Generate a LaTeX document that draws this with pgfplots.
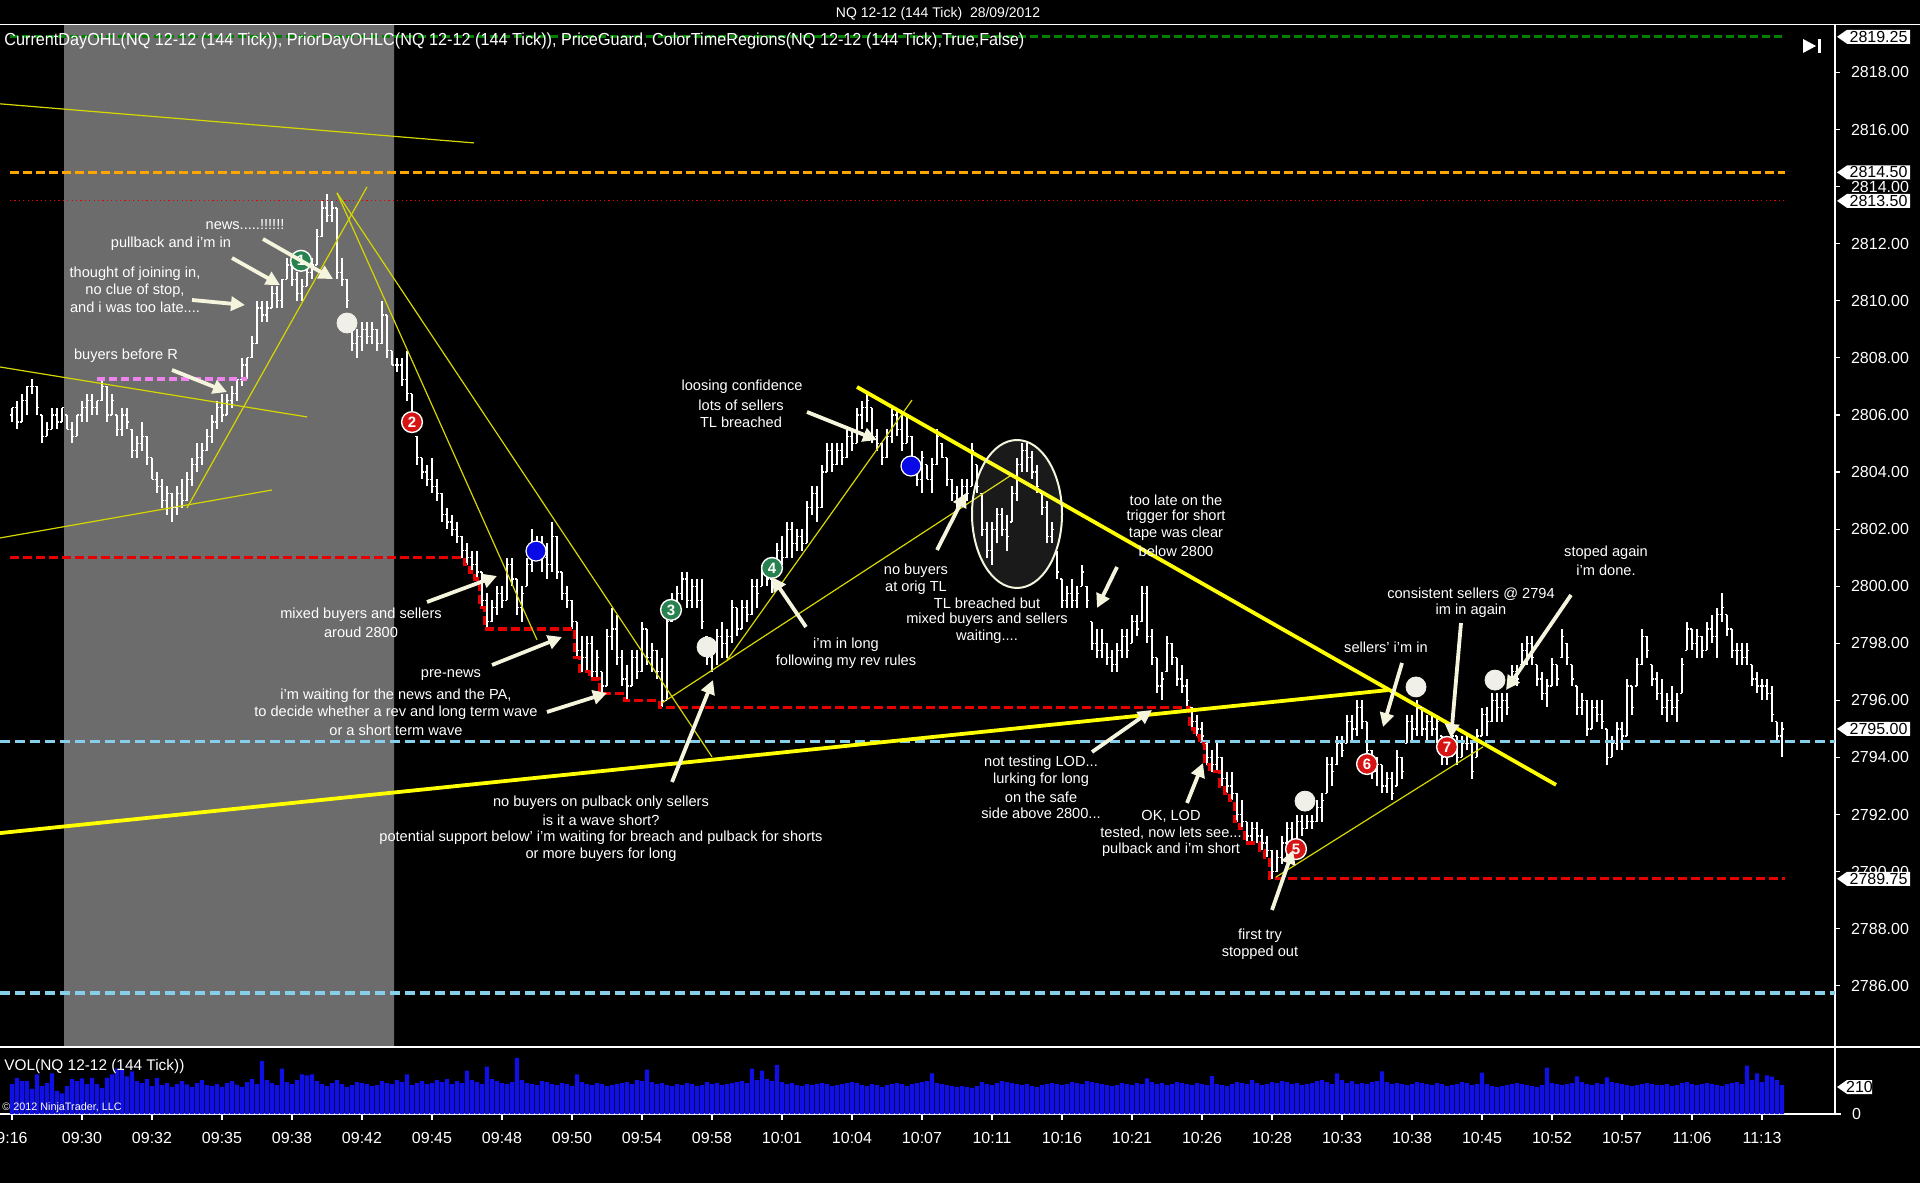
\documentclass[border=0pt]{standalone}
\usepackage{pgfplots}
\pgfplotsset{compat=1.18}
\usepackage{pgfplotstable}
\usepackage{fontspec}
\setmainfont{Liberation Sans}
\usepackage{graphicx}
\usetikzlibrary{arrows.meta}

\definecolor{bandgray}{RGB}{108,108,108}
\definecolor{lvlorange}{RGB}{255,165,0}
\definecolor{lvlgreen}{RGB}{0,128,0}
\definecolor{lvlred}{RGB}{230,0,0}
\definecolor{lvlblue}{RGB}{135,206,235}
\definecolor{lvlpink}{RGB}{238,130,238}
\definecolor{tlyellow}{RGB}{255,255,0}
\definecolor{tlthin}{RGB}{215,215,0}
\definecolor{arrowc}{RGB}{245,245,222}
\definecolor{dotwhite}{RGB}{240,240,232}
\definecolor{numgreen}{RGB}{40,130,80}
\definecolor{numred}{RGB}{215,20,20}
\definecolor{dotblue}{RGB}{10,10,230}
\definecolor{volblue}{RGB}{15,15,230}

\pgfdeclareplotmark{otick}{\pgfpathmoveto{\pgfqpoint{-1.1pt}{0pt}}\pgfpathlineto{\pgfqpoint{0pt}{0pt}}\pgfusepathqstroke}
\pgfdeclareplotmark{ctick}{\pgfpathmoveto{\pgfqpoint{0pt}{0pt}}\pgfpathlineto{\pgfqpoint{1.1pt}{0pt}}\pgfusepathqstroke}

\pgfplotstableread{
i o h l c v
0 2806.00 2806.25 2805.75 2806.25 232
1 2806.25 2806.50 2805.50 2805.75 280
2 2805.75 2806.75 2805.75 2806.50 255
3 2806.50 2807.00 2806.00 2807.00 255
4 2807.00 2807.25 2806.75 2807.00 195
5 2807.00 2807.00 2806.00 2806.25 307
6 2806.00 2806.00 2805.00 2805.25 217
7 2805.25 2805.75 2805.25 2805.50 240
8 2805.50 2806.25 2805.50 2806.00 315
9 2806.00 2806.25 2805.50 2805.75 180
10 2805.75 2806.25 2805.75 2806.25 160
11 2806.00 2806.00 2805.50 2805.50 217
12 2805.50 2805.75 2805.00 2805.25 270
13 2805.25 2806.00 2805.25 2806.00 255
14 2806.00 2806.50 2805.75 2806.25 277
15 2806.25 2806.75 2805.75 2806.50 232
16 2806.50 2806.75 2806.00 2806.25 280
17 2806.25 2806.50 2806.00 2806.50 232
18 2806.50 2807.25 2806.50 2807.00 202
19 2807.00 2807.00 2805.75 2806.00 280
20 2806.00 2806.75 2806.00 2806.50 307
21 2806.00 2806.00 2805.25 2805.50 352
22 2805.50 2806.25 2805.25 2806.00 340
23 2806.00 2806.25 2805.50 2805.75 292
24 2805.50 2805.50 2804.50 2804.75 330
25 2804.75 2805.25 2804.50 2805.00 255
26 2805.00 2805.75 2804.75 2805.25 240
27 2805.25 2805.25 2804.25 2804.50 270
28 2804.50 2804.50 2803.75 2803.75 217
29 2803.75 2804.00 2803.25 2803.50 280
30 2803.50 2803.75 2802.75 2803.00 225
31 2803.00 2803.50 2802.50 2803.25 240
32 2803.25 2803.25 2802.25 2802.75 210
33 2802.75 2803.50 2802.50 2803.25 232
34 2803.25 2803.75 2802.75 2803.00 255
35 2803.00 2804.00 2803.00 2803.75 230
36 2803.75 2804.50 2803.50 2804.25 210
37 2804.25 2805.00 2804.00 2804.50 240
38 2804.50 2805.00 2804.25 2804.75 262
39 2804.75 2805.50 2804.75 2805.25 225
40 2805.25 2806.00 2805.00 2805.75 217
41 2805.75 2806.50 2805.50 2806.25 232
42 2806.25 2806.75 2805.75 2806.00 210
43 2806.00 2806.75 2806.00 2806.50 240
44 2806.50 2807.00 2806.25 2806.75 255
45 2806.75 2807.25 2806.50 2807.25 228
46 2807.25 2808.00 2807.00 2807.75 210
47 2807.75 2808.00 2807.25 2808.00 247
48 2808.00 2808.75 2808.00 2808.50 270
49 2808.50 2810.00 2808.50 2809.75 232
50 2809.75 2810.00 2809.25 2809.50 412
51 2809.50 2810.00 2809.25 2809.75 262
52 2809.75 2810.50 2809.75 2810.25 240
53 2810.25 2810.50 2809.75 2810.00 225
54 2810.00 2810.75 2809.75 2810.75 352
55 2810.75 2811.50 2810.75 2811.25 247
56 2811.25 2811.50 2810.50 2810.75 232
57 2810.75 2811.00 2810.00 2810.25 262
58 2810.25 2810.75 2810.00 2810.50 307
59 2810.50 2811.25 2810.50 2811.00 300
60 2811.00 2811.50 2810.75 2811.25 307
61 2811.25 2812.50 2811.25 2812.25 255
62 2812.25 2813.50 2812.25 2813.25 232
63 2813.25 2813.75 2812.75 2813.00 217
64 2813.00 2813.50 2812.75 2813.25 240
65 2813.25 2813.25 2810.75 2811.00 262
66 2811.00 2811.50 2810.50 2810.75 232
67 2810.75 2810.75 2809.75 2810.00 210
68 2809.00 2809.00 2808.25 2808.50 225
69 2808.50 2809.00 2808.00 2808.75 247
70 2808.75 2809.25 2808.25 2809.00 240
71 2809.00 2809.25 2808.50 2808.75 232
72 2808.75 2809.25 2808.50 2809.00 217
73 2809.00 2809.00 2808.25 2808.50 225
74 2808.50 2810.00 2808.50 2809.50 255
75 2809.50 2809.50 2808.00 2808.25 240
76 2808.25 2808.25 2807.75 2807.75 232
77 2807.75 2808.00 2807.50 2807.75 262
78 2807.75 2808.00 2807.00 2807.25 247
79 2807.25 2808.25 2806.50 2806.75 307
80 2806.75 2806.75 2805.50 2805.75 225
81 2805.25 2805.25 2804.25 2804.50 240
82 2804.50 2804.50 2803.75 2804.00 255
83 2804.00 2804.25 2803.50 2803.75 232
84 2803.75 2804.50 2803.25 2803.50 240
85 2803.50 2803.75 2803.00 2803.25 262
86 2803.25 2803.25 2802.25 2802.50 247
87 2802.50 2802.75 2802.00 2802.25 270
88 2802.25 2802.50 2801.75 2802.00 232
89 2802.00 2802.25 2801.50 2801.75 255
90 2801.75 2801.75 2801.00 2801.25 240
91 2801.25 2801.50 2800.75 2801.00 337
92 2801.00 2801.25 2800.50 2800.75 262
93 2800.75 2801.25 2800.25 2800.50 247
94 2800.50 2800.50 2799.25 2799.50 232
95 2799.50 2799.75 2798.50 2798.75 367
96 2798.75 2799.50 2798.75 2799.25 270
97 2799.25 2800.00 2799.00 2799.75 255
98 2799.75 2800.00 2799.25 2799.50 240
99 2799.50 2801.00 2799.50 2800.75 232
100 2800.75 2801.00 2800.00 2800.25 247
101 2800.25 2800.25 2799.00 2799.25 435
102 2799.25 2800.00 2798.75 2799.75 262
103 2800.00 2801.00 2800.00 2800.75 240
104 2800.75 2802.00 2800.50 2801.50 232
105 2801.50 2801.75 2801.00 2801.25 225
106 2801.25 2801.75 2800.50 2801.00 255
107 2801.00 2801.50 2800.25 2800.75 247
108 2800.75 2802.25 2800.50 2801.75 232
109 2801.75 2801.75 2800.25 2800.50 225
110 2800.50 2800.50 2799.50 2799.75 240
111 2799.75 2800.00 2799.25 2799.50 232
112 2799.50 2799.50 2798.50 2798.75 217
113 2798.75 2798.75 2797.50 2797.75 307
114 2797.75 2798.25 2797.00 2797.50 247
115 2797.50 2798.25 2797.00 2798.00 232
116 2798.00 2798.25 2796.75 2797.00 225
117 2797.00 2797.75 2796.75 2797.50 240
118 2797.00 2797.00 2796.25 2796.50 232
119 2796.50 2798.50 2796.50 2798.25 217
120 2798.25 2799.25 2797.75 2798.50 225
121 2798.50 2799.00 2797.25 2797.50 232
122 2797.50 2797.75 2796.50 2796.75 240
123 2796.75 2797.25 2796.00 2796.50 247
124 2796.50 2797.75 2796.50 2797.50 232
125 2797.50 2797.75 2796.75 2797.00 262
126 2797.00 2798.75 2797.00 2798.50 255
127 2798.50 2798.50 2797.25 2797.50 345
128 2797.50 2798.00 2797.00 2797.75 247
129 2797.75 2797.75 2796.75 2797.00 232
130 2797.00 2797.50 2795.75 2796.00 240
131 2796.00 2799.00 2796.00 2798.75 225
132 2798.75 2799.75 2798.75 2799.50 217
133 2799.50 2800.00 2799.25 2799.75 232
134 2799.75 2800.50 2799.50 2800.25 225
135 2800.25 2800.50 2799.25 2799.50 240
136 2799.50 2800.25 2799.25 2800.00 232
137 2800.00 2800.25 2799.25 2799.50 217
138 2799.50 2800.25 2798.50 2798.75 225
139 2798.25 2798.25 2797.25 2797.50 247
140 2797.50 2798.00 2797.00 2797.75 232
141 2797.75 2798.50 2797.25 2798.25 240
142 2798.25 2798.75 2797.50 2798.00 225
143 2798.00 2798.50 2797.50 2798.25 232
144 2798.25 2799.50 2798.00 2799.25 240
145 2799.25 2799.25 2798.25 2798.50 247
146 2798.50 2799.50 2798.50 2799.25 255
147 2799.25 2799.50 2798.75 2799.00 240
148 2799.00 2800.25 2799.00 2800.00 352
149 2800.00 2800.25 2799.25 2799.75 262
150 2800.00 2800.75 2800.00 2800.50 337
151 2800.50 2800.75 2800.00 2800.25 270
152 2800.25 2800.75 2799.75 2800.50 255
153 2800.50 2801.50 2800.50 2801.25 382
154 2801.25 2801.75 2800.75 2801.00 247
155 2801.00 2802.25 2801.00 2802.00 232
156 2802.00 2802.25 2801.00 2801.50 240
157 2801.50 2802.00 2801.25 2801.75 225
158 2801.75 2802.00 2801.25 2801.50 217
159 2801.50 2803.00 2801.50 2802.75 232
160 2802.75 2803.50 2802.50 2803.25 225
161 2803.25 2803.50 2802.25 2802.75 232
162 2802.75 2804.25 2802.75 2804.00 240
163 2804.00 2805.00 2804.00 2804.75 232
164 2804.75 2805.00 2804.00 2804.25 217
165 2804.25 2805.00 2804.25 2804.75 225
166 2804.75 2805.00 2804.25 2804.50 232
167 2804.50 2805.50 2804.50 2805.25 240
168 2805.25 2805.50 2804.75 2805.00 247
169 2805.00 2806.25 2805.00 2806.00 240
170 2806.00 2806.50 2805.50 2806.25 225
171 2806.25 2806.75 2805.75 2806.50 217
172 2806.25 2806.25 2805.00 2805.25 232
173 2805.25 2805.50 2804.75 2805.00 225
174 2805.00 2805.00 2804.25 2804.50 210
175 2804.50 2805.50 2804.50 2805.25 225
176 2805.25 2806.25 2805.00 2806.00 232
177 2806.00 2806.25 2805.25 2805.50 240
178 2805.50 2806.00 2804.75 2805.00 232
179 2805.00 2806.00 2805.00 2805.25 217
180 2805.25 2805.25 2804.25 2804.50 232
181 2804.25 2804.50 2803.50 2803.75 240
182 2803.75 2804.75 2803.25 2804.50 247
183 2804.25 2804.25 2803.75 2803.75 255
184 2803.75 2804.50 2803.25 2804.25 315
185 2804.25 2805.50 2804.25 2805.25 240
186 2805.00 2805.00 2804.50 2804.50 232
187 2804.50 2804.50 2803.50 2803.75 225
188 2803.75 2803.75 2803.00 2803.25 217
189 2803.25 2803.50 2802.75 2803.00 210
190 2803.00 2803.75 2803.00 2803.50 217
191 2803.50 2803.75 2803.00 2803.25 210
192 2803.50 2805.00 2803.50 2804.75 202
193 2804.25 2804.25 2803.25 2803.50 217
194 2803.25 2803.25 2801.75 2802.00 247
195 2802.00 2802.25 2801.00 2801.25 232
196 2801.25 2802.25 2800.75 2802.00 225
197 2802.00 2802.75 2801.50 2802.50 240
198 2802.50 2802.75 2801.75 2802.00 255
199 2802.00 2802.50 2801.25 2801.75 247
200 2802.25 2803.50 2802.25 2803.25 240
201 2803.25 2804.50 2803.00 2804.25 232
202 2804.25 2805.00 2804.00 2804.75 225
203 2804.75 2805.00 2804.00 2804.50 232
204 2804.50 2804.75 2803.75 2804.00 217
205 2804.00 2804.25 2803.25 2803.50 210
206 2803.25 2803.25 2802.50 2802.75 225
207 2802.75 2803.00 2801.50 2801.75 232
208 2801.75 2802.25 2801.50 2802.00 240
209 2801.25 2801.25 2800.25 2800.50 232
210 2800.25 2800.25 2799.25 2799.50 225
211 2799.50 2800.00 2799.25 2799.75 232
212 2799.75 2800.25 2799.25 2799.50 247
213 2799.50 2800.00 2799.25 2799.75 240
214 2800.00 2800.75 2800.00 2800.50 232
215 2800.00 2800.00 2799.25 2799.50 255
216 2798.75 2798.75 2797.75 2798.00 247
217 2798.00 2798.50 2797.50 2797.75 240
218 2797.75 2798.50 2797.50 2798.00 232
219 2798.00 2798.00 2797.25 2797.50 225
220 2797.50 2797.75 2797.00 2797.25 217
221 2797.25 2798.00 2797.00 2797.75 225
222 2797.75 2798.50 2797.50 2798.25 240
223 2798.25 2798.50 2797.50 2797.75 232
224 2798.00 2799.00 2798.00 2798.75 225
225 2798.75 2799.00 2798.25 2798.50 240
226 2798.75 2800.00 2798.75 2799.75 232
227 2799.75 2800.00 2798.00 2798.25 277
228 2798.25 2798.50 2797.25 2797.50 247
229 2797.50 2797.50 2796.25 2796.50 232
230 2796.50 2797.00 2796.00 2796.75 240
231 2797.00 2798.25 2797.00 2798.00 225
232 2798.00 2798.00 2797.25 2797.50 232
233 2797.50 2797.50 2796.50 2796.75 247
234 2796.75 2797.25 2796.25 2796.50 240
235 2796.50 2796.75 2795.75 2796.00 232
236 2795.75 2795.75 2795.00 2795.25 225
237 2795.25 2795.50 2794.75 2795.00 240
238 2795.00 2795.25 2794.50 2794.75 232
239 2794.50 2794.50 2793.75 2794.00 225
240 2794.00 2794.25 2793.50 2793.75 293
241 2793.75 2794.50 2793.50 2794.00 232
242 2794.00 2794.00 2793.00 2793.25 225
243 2793.25 2793.50 2792.75 2793.00 217
244 2793.00 2793.50 2792.50 2792.75 232
245 2792.75 2792.75 2791.75 2792.00 247
246 2792.00 2792.50 2791.50 2791.75 240
247 2791.75 2791.75 2791.00 2791.25 232
248 2791.25 2791.75 2791.00 2791.50 262
249 2791.50 2791.75 2791.00 2791.25 240
250 2791.25 2791.50 2790.75 2791.00 225
251 2791.00 2791.25 2790.50 2790.75 232
252 2790.75 2790.75 2789.75 2790.00 247
253 2790.00 2790.75 2790.00 2790.50 240
254 2790.50 2791.25 2790.25 2791.00 255
255 2791.00 2791.75 2790.50 2791.50 247
256 2791.50 2791.75 2790.75 2791.00 232
257 2791.00 2792.00 2791.00 2791.75 240
258 2791.75 2792.00 2791.25 2791.50 225
259 2791.50 2792.00 2791.50 2791.75 232
260 2791.75 2792.00 2791.50 2791.75 240
261 2791.75 2792.50 2791.75 2792.25 255
262 2792.25 2792.75 2791.75 2792.50 262
263 2792.75 2794.00 2792.75 2793.75 247
264 2793.75 2794.00 2793.00 2793.50 232
265 2793.75 2794.75 2793.75 2794.50 315
266 2794.50 2794.75 2794.00 2794.25 262
267 2794.50 2795.50 2794.50 2795.25 240
268 2795.25 2795.50 2794.50 2795.00 255
269 2795.00 2796.00 2794.75 2795.75 232
270 2795.75 2796.00 2795.00 2795.25 240
271 2795.25 2795.25 2794.00 2794.25 232
272 2794.25 2794.25 2793.25 2793.50 247
273 2793.50 2794.00 2793.00 2793.75 255
274 2793.75 2793.75 2792.75 2793.00 330
275 2793.00 2793.50 2792.75 2793.25 247
276 2793.25 2793.50 2792.50 2792.75 232
277 2793.00 2794.25 2793.00 2794.00 240
278 2794.00 2794.00 2793.25 2793.50 232
279 2794.50 2795.50 2794.50 2795.25 225
280 2795.25 2795.50 2794.50 2795.00 232
281 2795.00 2796.00 2794.75 2795.75 247
282 2795.75 2795.75 2794.75 2795.00 240
283 2795.00 2795.50 2794.50 2795.25 232
284 2795.25 2795.50 2794.75 2795.00 225
285 2795.00 2795.50 2794.50 2795.25 240
286 2794.75 2794.75 2793.75 2794.00 232
287 2794.00 2794.50 2793.75 2794.25 217
288 2794.25 2795.00 2794.00 2794.75 225
289 2794.75 2794.75 2793.75 2794.00 232
290 2794.00 2794.75 2794.00 2794.50 247
291 2794.50 2794.75 2794.25 2794.50 240
292 2794.50 2794.50 2793.25 2793.50 225
293 2794.00 2795.00 2794.00 2794.75 232
294 2794.75 2795.75 2794.75 2795.50 322
295 2795.50 2795.75 2794.75 2795.25 232
296 2795.25 2796.25 2795.25 2796.00 217
297 2796.00 2796.25 2795.25 2795.75 210
298 2795.75 2796.25 2795.25 2796.00 217
299 2796.00 2796.25 2795.50 2795.75 225
300 2796.50 2797.25 2796.50 2797.00 232
301 2797.00 2797.25 2796.50 2796.75 240
302 2797.25 2798.00 2797.25 2797.75 232
303 2797.75 2798.25 2797.25 2798.00 225
304 2798.00 2798.25 2797.25 2797.50 217
305 2797.25 2797.25 2796.50 2796.75 210
306 2796.75 2797.00 2796.00 2796.25 225
307 2796.25 2796.75 2795.75 2796.50 360
308 2796.50 2797.50 2796.50 2797.25 240
309 2797.25 2797.25 2796.50 2796.75 232
310 2797.50 2798.50 2797.50 2798.25 225
311 2798.00 2798.00 2797.25 2797.50 232
312 2797.25 2797.25 2796.50 2796.75 240
313 2796.50 2796.50 2795.50 2795.75 292
314 2795.75 2796.25 2795.50 2796.00 247
315 2796.00 2796.00 2794.75 2795.00 232
316 2795.00 2796.00 2795.00 2795.75 225
317 2795.75 2796.00 2795.25 2795.50 240
318 2795.50 2796.00 2795.00 2795.25 232
319 2795.00 2795.00 2793.75 2794.00 285
320 2794.00 2794.75 2794.00 2794.50 247
321 2794.50 2795.25 2794.25 2795.00 240
322 2795.00 2795.25 2794.25 2794.75 232
323 2794.75 2796.75 2794.75 2796.50 225
324 2796.50 2796.50 2795.50 2795.75 217
325 2796.50 2797.50 2796.50 2797.25 225
326 2797.25 2798.50 2797.25 2798.25 232
327 2798.25 2798.25 2797.50 2797.75 240
328 2797.25 2797.25 2796.50 2796.75 232
329 2796.75 2797.00 2796.00 2796.25 225
330 2796.25 2796.75 2795.50 2795.75 225
331 2795.75 2796.25 2795.25 2796.00 232
332 2796.00 2796.50 2795.50 2795.75 217
333 2795.75 2796.25 2795.25 2796.00 225
334 2796.25 2797.50 2796.25 2797.25 240
335 2797.75 2798.75 2797.75 2798.50 247
336 2798.50 2798.50 2797.75 2798.00 232
337 2798.00 2798.50 2797.50 2798.25 225
338 2798.25 2798.25 2797.50 2797.75 232
339 2797.75 2798.75 2797.75 2798.50 240
340 2798.50 2799.00 2798.00 2798.25 232
341 2798.25 2799.25 2797.50 2799.00 225
342 2799.00 2799.75 2798.75 2799.25 217
343 2799.00 2799.00 2798.25 2798.50 232
344 2798.50 2798.50 2797.50 2797.75 240
345 2797.75 2798.00 2797.25 2797.75 247
346 2797.75 2798.00 2797.25 2797.50 232
347 2797.50 2798.00 2797.25 2797.75 375
348 2797.25 2797.25 2796.50 2796.75 262
349 2796.75 2797.00 2796.25 2796.50 315
350 2796.50 2796.75 2796.00 2796.50 247
351 2796.50 2796.75 2796.00 2796.25 300
352 2796.25 2796.50 2795.25 2795.50 290
353 2795.25 2795.25 2794.50 2794.75 262
354 2794.75 2795.25 2794.00 2795.00 225
}\bars

\newcommand{\pbox}[3]{%
  \fill[white] (1837,#1) -- (1847,#1-7) -- (#3,#1-7) -- (#3,#1+7) -- (1847,#1+7) -- cycle;
  \node[text=black, font=\fontsize{8}{9}\selectfont, inner sep=0pt] at ({(1847+#3)/2},#1) {#2};}

\begin{document}
\begin{tikzpicture}
\fill[black] (0,0) rectangle (960pt,591.5pt);
\useasboundingbox (0,0) rectangle (960pt,591.5pt);

% ---------------- price panel ----------------
\begin{axis}[
  at={(0pt,68pt)}, anchor=south west,
  scale only axis, width=917.5pt, height=511.25pt,
  xmin=-2.4, xmax=364.6, ymin=2783.855, ymax=2819.68,
  axis x line=none, axis y line*=right,
  y axis line style={white, line width=0.8pt, -},
  ytick={2786,2788,...,2818},
  tick align=outside, major tick length=2.5pt,
  every tick/.style={white, line width=0.6pt},
  yticklabel style={text=white, font=\fontsize{8}{9}\selectfont, xshift=2pt,
    /pgf/number format/.cd, fixed, fixed zerofill, precision=2, 1000 sep={}, assume math mode=true},
]
% time region
\addplot[fill=bandgray, draw=none] coordinates {(10.4,2783.855) (10.4,2819.68) (76.4,2819.68) (76.4,2783.855) (10.4,2783.855)};
% OHLC bars
\addplot[white, only marks, mark=otick, mark options={line width=0.6pt},
  error bars/.cd, y dir=both, y explicit, error mark=none,
  error bar style={white, line width=0.6pt}]
  table[x=i, y=o, y error plus expr=\thisrow{h}-\thisrow{o}, y error minus expr=\thisrow{o}-\thisrow{l}] {\bars};
\addplot[white, only marks, mark=ctick, mark options={line width=0.6pt}] table[x=i, y=c] {\bars};
% level lines
\addplot[lvlgreen, line width=1.5pt, dash pattern=on 4pt off 2pt] coordinates {(-0.4,2819.25) (354.6,2819.25)};
\addplot[lvlorange, line width=1.6pt, dash pattern=on 4.5pt off 2pt] coordinates {(-0.4,2814.5) (354.6,2814.5)};
\addplot[lvlred, line width=0.6pt, dash pattern=on 0.6pt off 1.6pt] coordinates {(-0.4,2813.5) (354.6,2813.5)};
\addplot[lvlblue, line width=1.6pt, dash pattern=on 5pt off 2.5pt] coordinates {(-2.4,2794.55) (364.6,2794.55)};
\addplot[lvlblue, line width=1.6pt, dash pattern=on 5pt off 2.5pt] coordinates {(-2.4,2785.75) (364.6,2785.75)};
\addplot[lvlpink, line width=1.8pt, dash pattern=on 4pt off 2pt] coordinates {(17,2807.26) (47,2807.26)};
\addplot[lvlred, line width=1.6pt, dash pattern=on 4.5pt off 2pt, const plot] coordinates {
 (-0.4,2801.0) (90.5,2800.75) (91.5,2800.5) (92.5,2800.25) (93.5,2799.25) (94.5,2798.5)
 (112.5,2797.5) (113.5,2797.0) (115.5,2796.75) (117.5,2796.25) (122.5,2796.0) (129.5,2795.75)
 (235.5,2795.0) (236.5,2794.75) (237.5,2794.5) (238.5,2793.75) (239.5,2793.5) (241.5,2793.0)
 (242.5,2792.75) (243.5,2792.5) (244.5,2791.75) (245.5,2791.5) (246.5,2791.0) (249.5,2790.75)
 (250.5,2790.5) (251.5,2789.75) (354.6,2789.75)};
% trend lines thin
\addplot[tlthin, line width=0.6pt] coordinates {(-2.4,2816.90) (92.4,2815.53)};
\addplot[tlthin, line width=0.6pt] coordinates {(-2.4,2807.68) (59,2805.93)};
\addplot[tlthin, line width=0.6pt] coordinates {(-2.4,2801.69) (52,2803.37)};
\addplot[tlthin, line width=0.6pt] coordinates {(35,2802.74) (71,2813.99)};
\addplot[tlthin, line width=0.6pt] coordinates {(65,2813.78) (105,2798.12)};
\addplot[tlthin, line width=0.6pt] coordinates {(65,2813.78) (140,2794.02)};
\addplot[tlthin, line width=0.6pt] coordinates {(143,2797.41) (180,2806.52)};
\addplot[tlthin, line width=0.6pt] coordinates {(130,2795.91) (200.2,2803.93)};
\addplot[tlthin, line width=0.6pt] coordinates {(252.8,2789.81) (294.2,2794.37)};
% trend lines thick
\addplot[tlyellow, line width=1.9pt] coordinates {(169,2806.98) (308.8,2793.04)};
\addplot[tlyellow, line width=1.9pt] coordinates {(-2.4,2791.35) (275.2,2796.36)};
% markers
\addplot[only marks, mark=*, mark size=5pt, mark options={fill=dotwhite, draw=dotwhite}] coordinates {
 (67,2809.22) (139,2797.87) (258.6,2792.47) (280.8,2796.47) (296.6,2796.71)};
\addplot[only marks, mark=*, mark size=5pt, mark options={fill=dotblue, draw=white, line width=0.6pt}] coordinates {
 (104.8,2801.23) (179.8,2804.21)};
\addplot[only marks, mark=*, mark size=5.2pt, mark options={fill=numgreen, draw=white, line width=0.7pt},
  nodes near coords, point meta=explicit symbolic, nodes near coords align=center,
  every node near coord/.append style={text=white, inner sep=0pt, font=\bfseries\fontsize{7.5}{8}\selectfont}]
  coordinates {(57.8,2811.40) [1] (131.8,2799.17) [3] (152,2800.64) [4]};
\addplot[only marks, mark=*, mark size=5.2pt, mark options={fill=numred, draw=white, line width=0.7pt},
  nodes near coords, point meta=explicit symbolic, nodes near coords align=center,
  every node near coord/.append style={text=white, inner sep=0pt, font=\bfseries\fontsize{7.5}{8}\selectfont}]
  coordinates {(80,2805.75) [2] (256.8,2790.79) [5] (271,2793.77) [6] (287,2794.37) [7]};
\end{axis}

% ---------------- volume panel ----------------
\begin{axis}[
  at={(0pt,34.5pt)}, anchor=south west,
  scale only axis, width=917.5pt, height=33.5pt,
  xmin=-2.4, xmax=364.6, ymin=0, ymax=520,
  axis x line*=bottom, axis y line*=right,
  axis line style={white, line width=0.8pt, -},
  xtick={0,14,...,350},
  xticklabels={9:16,09:30,09:32,09:35,09:38,09:42,09:45,09:48,09:50,09:54,09:58,10:01,10:04,10:07,10:11,10:16,10:21,10:26,10:28,10:33,10:38,10:45,10:52,10:57,11:06,11:13},
  ytick={0},
  tick align=outside, major tick length=3pt,
  every tick/.style={white, line width=0.6pt},
  xticklabel style={text=white, font=\fontsize{8}{9}\selectfont, yshift=-2.5pt},
  yticklabel style={text=white, font=\fontsize{8}{9}\selectfont, xshift=2pt, /pgf/number format/assume math mode=true},
]
\addplot[ybar, bar width=2.1pt, fill=volblue, draw=none] table[x=i, y=v] {\bars};
\end{axis}

% ---------------- annotations (pixel coordinates, y down) ----------------
\begin{scope}[x=0.5pt, y=-0.5pt, shift={(0pt,591.5pt)},
  ann/.style={text=white, font=\fontsize{7.3}{8}\selectfont, inner sep=0pt},
  arr/.style={draw=arrowc, line width=1.9pt, -{Triangle[length=7pt,width=7pt]}}]
\draw[white, line width=0.8pt] (0,24.5) -- (1920,24.5);
\draw[white, line width=0.8pt] (0,1047) -- (1920,1047);
\node[text=white, font=\fontsize{7}{8}\selectfont, inner sep=0pt] at (938,13.5) {NQ 12-12 (144 Tick)\ \ 28/09/2012};
\node[anchor=west, text=white, inner sep=0pt] at (4,41) {\resizebox{510pt}{\height}{\fontsize{8.7}{9}\selectfont CurrentDayOHL(NQ 12-12 (144 Tick)), PriorDayOHLC(NQ 12-12 (144 Tick)), PriceGuard, ColorTimeRegions(NQ 12-12 (144 Tick),True,False)}};
\node[anchor=west, text=white, font=\fontsize{7.7}{8}\selectfont, inner sep=0pt] at (4,1067) {VOL(NQ 12-12 (144 Tick))};
\node[anchor=west, text=white, font=\fontsize{5.4}{6}\selectfont, inner sep=0pt] at (2,1108) {© 2012 NinjaTrader, LLC};
% play icon
\fill[white] (1803,39) -- (1816,46) -- (1803,53) -- cycle;
\fill[white] (1818,39) rectangle (1821,53);
% ellipse
\draw[draw=arrowc, line width=1pt, fill=white, fill opacity=0.1] (1017,514) ellipse [x radius=22.5pt, y radius=37pt];
% price boxes
\pbox{36.8}{2819.25}{1910}
\pbox{172.4}{2814.50}{1910}
\pbox{200.9}{2813.50}{1910}
\pbox{728.9}{2795.00}{1910}
\pbox{878.8}{2789.75}{1910}
\pbox{1087}{210}{1872}
% texts
\node[ann] at (245,225) {news.....!!!!!!};
\node[ann] at (171,244) {pullback and i'm in};
\node[ann] at (135,274) {thought of joining in,};
\node[ann] at (135,291) {no clue of stop,};
\node[ann] at (135,307) {and i was too late....};
\node[ann] at (126,356) {buyers before R};
\node[ann] at (361,615) {mixed buyers and sellers};
\node[ann] at (361,632) {aroud 2800};
\node[ann] at (451,675) {pre-news};
\node[ann] at (396,696) {i'm waiting for the news and the PA,};
\node[ann] at (396,713) {to decide whether a rev and long term wave};
\node[ann] at (396,730) {or a short term wave};
\node[ann] at (601,803) {no buyers on pulback only sellers};
\node[ann] at (601,820) {is it a wave short?};
\node[ann] at (601,838) {potential support below' i'm waiting for breach and pulback for shorts};
\node[ann] at (601,855) {or more buyers for long};
\node[ann] at (742,387) {loosing confidence};
\node[ann] at (741,405) {lots of sellers};
\node[ann] at (741,422) {TL breached};
\node[ann] at (846,645) {i'm in long};
\node[ann] at (846,662) {following my rev rules};
\node[ann] at (916,571) {no buyers};
\node[ann] at (916,588) {at orig TL};
\node[ann] at (987,603) {TL breached but};
\node[ann] at (987,620) {mixed buyers and sellers};
\node[ann] at (987,637) {waiting....};
\node[ann] at (1176,500) {too late on the};
\node[ann] at (1176,517) {trigger for short};
\node[ann] at (1176,534) {tape was clear};
\node[ann] at (1176,551) {below 2800};
\node[ann] at (1041,763) {not testing LOD...};
\node[ann] at (1041,780) {lurking for long};
\node[ann] at (1041,797) {on the safe};
\node[ann] at (1041,813) {side above 2800...};
\node[ann] at (1171,816) {OK, LOD};
\node[ann] at (1171,833) {tested, now lets see...};
\node[ann] at (1171,850) {pulback and i'm short};
\node[ann] at (1260,936) {first try};
\node[ann] at (1260,953) {stopped out};
\node[ann] at (1386,647) {sellers' i'm in};
\node[ann] at (1471,594) {consistent sellers @ 2794};
\node[ann] at (1471,611) {im in again};
\node[ann] at (1606,553) {stoped again};
\node[ann] at (1606,570) {i'm done.};
% arrows
\draw[arr] (263,239) -- (333,279);
\draw[arr] (232,258) -- (280,285);
\draw[arr] (192,300) -- (245,305);
\draw[arr] (172,370) -- (227,392);
\draw[arr] (427,602) -- (497,576);
\draw[arr] (492,665) -- (562,637);
\draw[arr] (547,712) -- (607,693);
\draw[arr] (672,782) -- (713,680);
\draw[arr] (807,412) -- (877,440);
\draw[arr] (806,627) -- (772,577);
\draw[arr] (937,550) -- (966,493);
\draw[arr] (1117,567) -- (1097,608);
\draw[arr] (1092,752) -- (1152,710);
\draw[arr] (1187,803) -- (1203,763);
\draw[arr] (1272,910) -- (1293,850);
\draw[arr] (1402,663) -- (1383,727);
\draw[arr] (1461,623) -- (1451,738);
\draw[arr] (1571,595) -- (1506,690);
\end{scope}
\end{tikzpicture}
\end{document}
